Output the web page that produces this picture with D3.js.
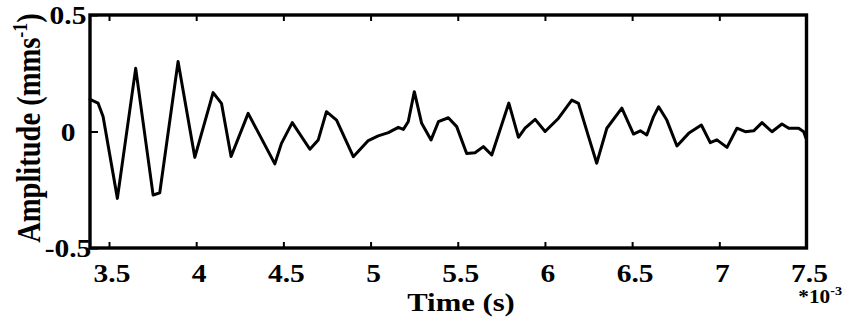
<!DOCTYPE html>
<html>
<head>
<meta charset="utf-8">
<script src="https://cdn.jsdelivr.net/npm/d3@7"></script>
<style>
  html, body { margin: 0; padding: 0; background: #ffffff; }
  svg { display: block; }
  text { font-family: "Liberation Serif", "Times New Roman", serif; font-weight: bold; fill: #000; }
</style>
</head>
<body>
<script>
// ---- data (time in units of 1e-3 s, amplitude in mm/s) ----
const time = [3.391, 3.437, 3.466, 3.548, 3.653, 3.753, 3.791, 3.896, 3.992, 4.097,
  4.145, 4.200, 4.298, 4.451, 4.489, 4.551, 4.652, 4.700, 4.747, 4.805,
  4.901, 4.987, 5.044, 5.102, 5.159, 5.188, 5.216, 5.251, 5.293, 5.347,
  5.389, 5.446, 5.494, 5.551, 5.599, 5.647, 5.695, 5.793, 5.848, 5.886,
  5.944, 6.001, 6.078, 6.154, 6.192, 6.250, 6.297, 6.355, 6.441, 6.508,
  6.547, 6.584, 6.623, 6.652, 6.699, 6.757, 6.824, 6.897, 6.948, 6.986,
  7.044, 7.101, 7.149, 7.197, 7.245, 7.302, 7.359, 7.398, 7.455, 7.484, 7.497];
const amplitude = [0.138, 0.122, 0.064, -0.287, 0.271, -0.273, -0.263, 0.300, -0.111, 0.167,
  0.121, -0.107, 0.078, -0.139, -0.051, 0.038, -0.076, -0.036, 0.085, 0.049,
  -0.108, -0.039, -0.019, -0.005, 0.018, 0.009, 0.042, 0.171, 0.035, -0.036,
  0.042, 0.059, 0.021, -0.094, -0.091, -0.065, -0.101, 0.122, -0.025, 0.014,
  0.052, 0.000, 0.057, 0.135, 0.121, -0.022, -0.136, 0.014, 0.100, -0.011,
  0.003, -0.015, 0.064, 0.106, 0.049, -0.062, -0.008, 0.028, -0.048, -0.036,
  -0.068, 0.014, -0.001, 0.003, 0.038, -0.001, 0.032, 0.014, 0.014, -0.001, -0.029];

const xTicks = [3.5, 4, 4.5, 5, 5.5, 6, 6.5, 7, 7.5];
const xTickLabels = ["3.5", "4", "4.5", "5", "5.5", "6", "6.5", "7", "7.5"];
const yTicks = [-0.5, 0, 0.5];
const yTickLabels = ["-0.5", "0", "0.5"];
const xDomain = [3.391, 7.5];
const yDomain = [-0.5, 0.5];

// ---- layout ----
const W = 849, H = 322;
const mLeft = 90, mRight = 806.5, mTop = 15, mBottom = 248;
const sx = 1.18; // horizontal stretch of the original figure

const svg = d3.select("body").append("svg").attr("width", W).attr("height", H);

const x = d3.scaleLinear().domain(xDomain).range([mLeft, mRight]);
const y = d3.scaleLinear().domain(yDomain).range([mBottom, mTop]);

// waveform
const pts = time.map((t, i) => [t, amplitude[i]]);
svg.append("path")
  .datum(pts)
  .attr("fill", "none")
  .attr("stroke", "#000")
  .attr("stroke-width", 3)
  .attr("stroke-linejoin", "round")
  .attr("stroke-linecap", "round")
  .attr("d", d3.line().x(d => x(d[0])).y(d => y(d[1])));

// inward ticks via axes
const tickLen = 6;
svg.append("g").attr("transform", `translate(0,${mBottom})`)
  .call(d3.axisTop(x).tickValues(xTicks).tickSize(tickLen).tickFormat(""))
  .call(g => g.select(".domain").remove())
  .call(g => g.selectAll("line").attr("stroke", "#000").attr("stroke-width", 2));
svg.append("g").attr("transform", `translate(0,${mTop})`)
  .call(d3.axisBottom(x).tickValues(xTicks).tickSize(tickLen).tickFormat(""))
  .call(g => g.select(".domain").remove())
  .call(g => g.selectAll("line").attr("stroke", "#000").attr("stroke-width", 2));
svg.append("g").attr("transform", `translate(${mLeft},0)`)
  .call(d3.axisRight(y).tickValues(yTicks).tickSize(tickLen + 2).tickFormat(""))
  .call(g => g.select(".domain").remove())
  .call(g => g.selectAll("line").attr("stroke", "#000").attr("stroke-width", 2));

// frame
svg.append("rect")
  .attr("x", mLeft).attr("y", mTop)
  .attr("width", mRight - mLeft).attr("height", mBottom - mTop)
  .attr("fill", "none").attr("stroke", "#000").attr("stroke-width", 3.4);

// x tick labels
svg.append("g").selectAll("text")
  .data(xTicks)
  .join("text")
  .attr("text-anchor", "middle")
  .attr("font-size", 25)
  .attr("transform", d => `translate(${x(d) + 3},282) scale(${sx},1)`)
  .text((d, i) => xTickLabels[i]);

// y tick labels
svg.append("g").selectAll("text")
  .data(yTicks)
  .join("text")
  .attr("text-anchor", "middle")
  .attr("font-size", 25)
  .attr("transform", d => `translate(68,${y(d) + 9}) scale(${sx},1)`)
  .text((d, i) => yTickLabels[i]);

// x axis title
svg.append("text")
  .attr("text-anchor", "middle")
  .attr("font-size", 26)
  .attr("transform", `translate(461,311) scale(${sx},1)`)
  .text("Time (s)");

// exponent
const ex = svg.append("text")
  .attr("text-anchor", "end")
  .attr("font-size", 18)
  .attr("transform", `translate(842,303) scale(${sx},1)`);
ex.append("tspan").text("*10");
ex.append("tspan").attr("font-size", 12).attr("dy", -8).text("-3");

// y axis title
const yt = svg.append("text")
  .attr("text-anchor", "middle")
  .attr("font-size", 28.5)
  .attr("transform", `translate(40,128) rotate(-90) scale(1,${sx})`);
yt.append("tspan").text("Amplitude (mms");
yt.append("tspan").attr("font-size", 18).attr("dy", -11).text("-1");
yt.append("tspan").attr("dy", 11).text(")");
</script>
</body>
</html>
